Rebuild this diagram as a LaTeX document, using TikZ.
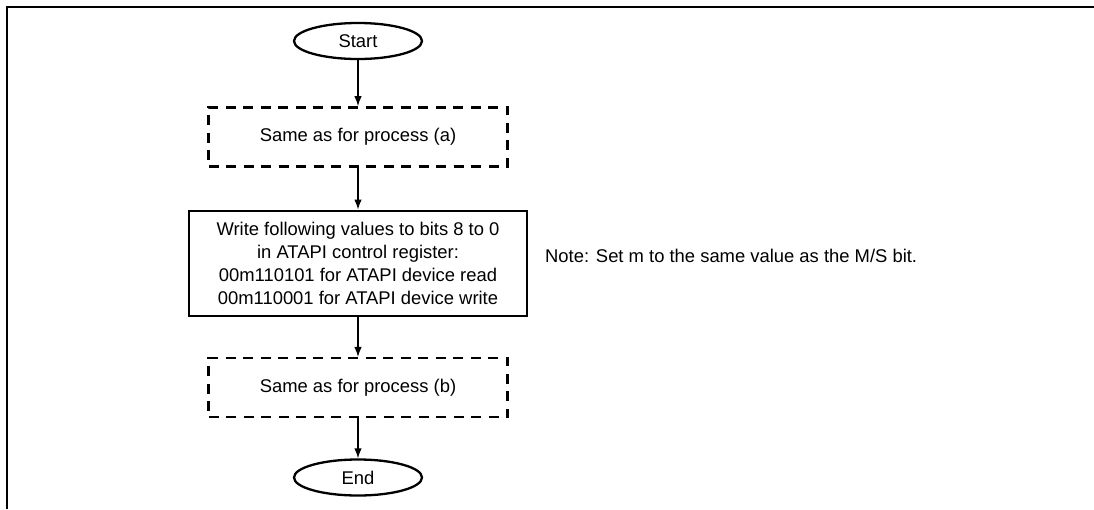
\documentclass[tikz,border=0pt]{standalone}
\usepackage{fontspec}
\setmainfont{Liberation Sans}
\usetikzlibrary{arrows.meta,positioning,shapes.geometric}
\tikzset{
  terminal/.style={draw,ellipse,line width=2.3pt,inner sep=0pt,
    minimum width=128pt,minimum height=36pt,font=\flowfont},
  refbox/.style={draw,line width=2.4pt,dash pattern=on 10pt off 7.5pt,inner sep=0pt,
    minimum width=299pt,minimum height=59pt,font=\flowfont},
  procbox/.style={draw,line width=2.4pt,inner sep=0pt,align=center,
    minimum width=338pt,minimum height=105pt,font=\flowfont},
  flowarrow/.style={-{Latex[length=10pt,width=7.5pt]},line width=1.3pt},
  notelabel/.style={anchor=base west,inner sep=0pt,font=\flowfont}
}
\newcommand{\flowfont}{\fontsize{18.4pt}{23pt}\selectfont}
\begin{document}
\begin{tikzpicture}[x=1pt,y=-1pt]
  \useasboundingbox (0,0) rectangle (1094,509);
  % frame
  \draw[line width=2.6pt] (7,509) -- (7,7) -- (1094,7);
  \node[terminal] (start) at (358,41) {Start};
  \node[refbox,below=46pt of start] (procA) {Same as for process (a)};
  \node[procbox,below=42pt of procA] (setreg)
    {Write following values to bits 8 to 0\\in ATAPI control register:\\
     00m110101 for ATAPI device read\\00m110001 for ATAPI device write};
  \node[refbox,below=40pt of setreg] (procB) {Same as for process (b)};
  \node[terminal,below=40pt of procB] (end) {End};
  \node[notelabel] (note) at (545,262) {Note: Set m to the same value as the M/S bit.};
  \draw[flowarrow] (start) -- (procA);
  \draw[flowarrow] (procA) -- (setreg);
  \draw[flowarrow] (setreg) -- (procB);
  \draw[flowarrow] (procB) -- (end);
\end{tikzpicture}
\end{document}
